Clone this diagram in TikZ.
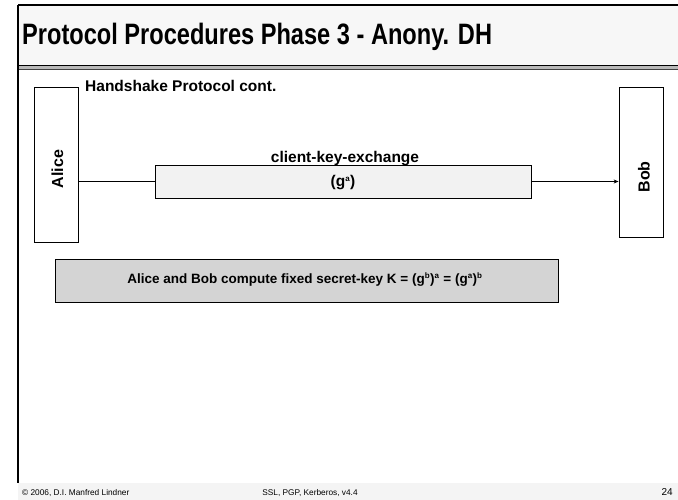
\documentclass[tikz,border=0pt]{standalone}
\usepackage{fontspec}
\setmainfont{Liberation Sans}
\usetikzlibrary{arrows.meta}
\definecolor{titlebg}{HTML}{F7F7F7}
\definecolor{msgfill}{HTML}{F2F2F2}
\definecolor{notefill}{HTML}{D4D4D4}
\definecolor{footbg}{HTML}{F4F4F4}
\newcommand{\sups}[1]{\textsuperscript{\fontsize{8}{8}\selectfont #1}}
\tikzset{
  party/.style={draw, line width=0.8pt, fill=white, minimum width=44pt, inner sep=0pt},
  partylabel/.style={font=\bfseries\fontsize{16}{16}\selectfont, rotate=90, inner sep=0pt},
  msgbox/.style={draw, line width=0.8pt, fill=msgfill, minimum width=376pt, minimum height=33pt, inner sep=0pt},
  notebox/.style={draw, line width=0.8pt, fill=notefill, minimum width=503pt, minimum height=43pt, inner sep=0pt},
  bodybold/.style={font=\bfseries\fontsize{15.5}{15.5}\selectfont, inner sep=0pt},
  notetext/.style={font=\bfseries\fontsize{13.5}{13.5}\selectfont, inner sep=0pt},
  foot/.style={font=\fontsize{8.3}{8.3}\selectfont, inner sep=0pt},
  link/.style={line width=0.8pt}
}
\begin{document}
\begin{tikzpicture}[x=1pt, y=-1pt]
  \useasboundingbox (0,0) rectangle (678,500);
  % slide frame and title band
  \fill[titlebg] (18,5) rectangle (678,65);
  \draw[line width=1.6pt] (18,5) -- (678,5);
  \draw[line width=1.2pt] (18,65.5) -- (678,65.5);
  \fill[gray!55] (18,66.3) rectangle (678,69.3);
  \draw[line width=0.8pt, black!75] (18,69.8) -- (678,69.8);
  \fill[footbg] (18,483) rectangle (678,500);
  \draw[line width=1.6pt] (18,5) -- (18,483);
  \node[anchor=base west, inner sep=0pt, xscale=0.8, font=\bfseries\fontsize{29.5}{29.5}\selectfont] (title) at (22,45) {Protocol Procedures Phase 3 - Anony. DH};

  % parties
  \node[party, minimum height=155pt] (alice) at (56,165) {};
  \node[partylabel] (alicelabel) at (57.5,169) {Alice};
  \node[party, minimum height=150pt] (bob) at (641,162) {};
  \node[partylabel] (boblabel) at (644,177) {Bob};

  \node[bodybold, anchor=base west] (hs) at (85,92) {Handshake Protocol cont.};

  % message
  \node[msgbox] (msg) at (343,181.5) {};
  \node[bodybold, anchor=base] (msgname) at (345,162.5) {client-key-exchange};
  \node[bodybold, anchor=base] (msgval) at (343,187) {(g\sups{a})};
  \coordinate (aout) at (alice.east |- msg.west);
  \coordinate (bin) at (bob.west |- msg.east);
  \draw[link] (aout) -- (msg.west);
  \draw[link, -{Stealth[length=5pt, width=4pt]}] (msg.east) -- (bin);

  % shared key note
  \node[notebox] (note) at (306.5,280.5) {};
  \node[notetext, anchor=base] (notetxt) at (305,283.5) {Alice and Bob compute fixed secret-key K = (g\sups{b})\sups{a} = (g\sups{a})\sups{b}};

  % footer
  \node[foot, anchor=base west] (copy) at (22,495) {\textcopyright{} 2006, D.I. Manfred Lindner};
  \node[foot, anchor=base] (course) at (310,495) {SSL, PGP, Kerberos, v4.4};
  \node[foot, anchor=base east, font=\fontsize{10}{10}\selectfont] (page) at (673,495.5) {24};
\end{tikzpicture}
\end{document}
